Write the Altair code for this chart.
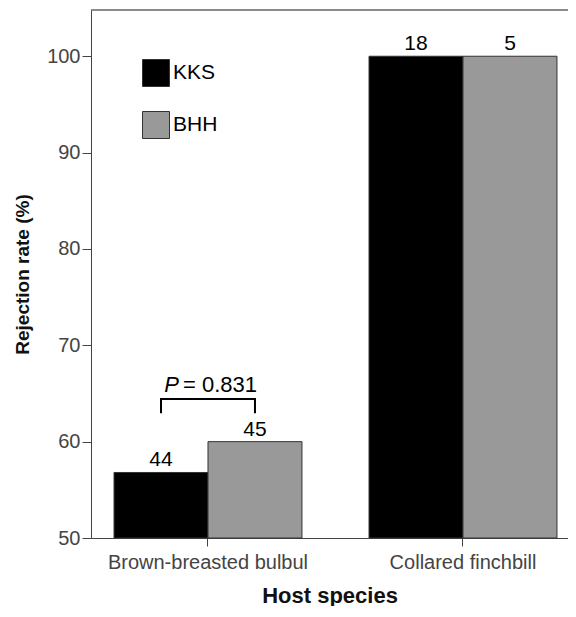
import altair as alt
import pandas as pd

hosts = ["Brown-breasted bulbul", "Collared finchbill"]
groups = ["KKS", "BHH"]
rates_kks = [56.8, 100.0]
rates_bhh = [60.0, 100.0]
n_kks = [44, 18]
n_bhh = [45, 5]
y_ticks = [50, 60, 70, 80, 90, 100]
p_label = "= 0.831"
bracket_low = 62.96
bracket_high = 64.43
p_text_y = 65.2

rows = []
for i, h in enumerate(hosts):
    rows.append({"host": h, "group": "KKS", "rate": rates_kks[i], "n": str(n_kks[i])})
    rows.append({"host": h, "group": "BHH", "rate": rates_bhh[i], "n": str(n_bhh[i])})
df = pd.DataFrame(rows)

bracket = pd.DataFrame({
    "host": [hosts[0]] * 4,
    "group": ["KKS", "KKS", "BHH", "BHH"],
    "y": [bracket_low, bracket_high, bracket_high, bracket_low],
    "order": [0, 1, 2, 3],
})
ptext = pd.DataFrame({"host": [hosts[0]], "y": [p_text_y]})

FONT = "Liberation Sans"
W, H = 477, 528

xscale = alt.Scale(domain=hosts, paddingInner=0.263, paddingOuter=0.0668, align=0.676)
xoff = alt.XOffset("group:N", scale=alt.Scale(domain=groups, paddingInner=0, paddingOuter=0))
yscale = alt.Scale(domain=[50, 104.8], nice=False, zero=False, clamp=True)

x_enc = alt.X("host:N", scale=xscale, sort=hosts,
              axis=alt.Axis(title="Host species", labelAngle=0, labelFontSize=20,
                            labelLimit=0,
                            labelColor="#444", labelFont=FONT, labelPadding=6,
                            titleFont=FONT, titleFontSize=22, titleFontWeight="bold",
                            titleColor="#111", titlePadding=13,
                            tickSize=8, tickColor="#444", domainColor="#444",
                            bandPosition=0.5))
y_enc = alt.Y("rate:Q", scale=yscale,
              axis=alt.Axis(title="Rejection rate (%)", values=y_ticks, grid=False,
                            labelFontSize=20, labelColor="#444", labelFont=FONT,
                            labelPadding=2, tickSize=9, tickColor="#444",
                            domainColor="#444", titleFont=FONT, titleFontSize=19,
                            titleFontWeight="bold", titleColor="#111", titlePadding=14))

bars = alt.Chart(df).mark_bar(stroke="#333", strokeWidth=1).encode(
    x=x_enc,
    xOffset=xoff,
    y=y_enc,
    y2=alt.datum(50),
    color=alt.Color("group:N", sort=groups,
                    scale=alt.Scale(domain=groups, range=["#000000", "#999999"]),
                    legend=alt.Legend(title=None, orient="none", legendX=51, legendY=49,
                                      symbolType="square", symbolSize=729,
                                      symbolStrokeColor="#333", symbolStrokeWidth=1,
                                      symbolOpacity=1,
                                      labelFontSize=21, labelFont=FONT, labelColor="#000",
                                      labelOffset=3, rowPadding=20, padding=0)),
)

labels = alt.Chart(df).mark_text(baseline="alphabetic", dy=-6, fontSize=21, font=FONT,
                                 color="#000").encode(
    x=alt.X("host:N", scale=xscale, sort=hosts),
    xOffset=xoff,
    y=alt.Y("rate:Q", scale=yscale),
    text="n:N",
)

br = alt.Chart(bracket).mark_line(color="#000", strokeWidth=2).encode(
    x=alt.X("host:N", scale=xscale, sort=hosts),
    xOffset=xoff,
    y=alt.Y("y:Q", scale=yscale),
    order="order:Q",
)

ptxt_p = alt.Chart(ptext).mark_text(text="P", fontStyle="italic", baseline="alphabetic",
                                    align="right", dx=-29, fontSize=22, font=FONT,
                                    color="#000").encode(
    x=alt.X("host:N", scale=xscale, sort=hosts),
    y=alt.Y("y:Q", scale=yscale),
)
ptxt_v = alt.Chart(ptext).mark_text(text=p_label, baseline="alphabetic", align="left",
                                    dx=-25, fontSize=22, font=FONT, color="#000").encode(
    x=alt.X("host:N", scale=xscale, sort=hosts),
    y=alt.Y("y:Q", scale=yscale),
)

top = alt.Chart(ptext).mark_rule(color="#666", strokeWidth=1.5).encode(
    x=alt.value(0), x2=alt.value(W), y=alt.value(0)
)

chart = alt.layer(bars, labels, br, ptxt_p, ptxt_v, top).properties(
    width=W, height=H,
    autosize=alt.AutoSizeParams(type="none"),
    padding={"left": 83, "top": 2, "right": 0, "bottom": 68},
    background="white",
).configure_view(stroke=None)

chart.save("out.html", embed_options={"renderer": "svg", "actions": False})
